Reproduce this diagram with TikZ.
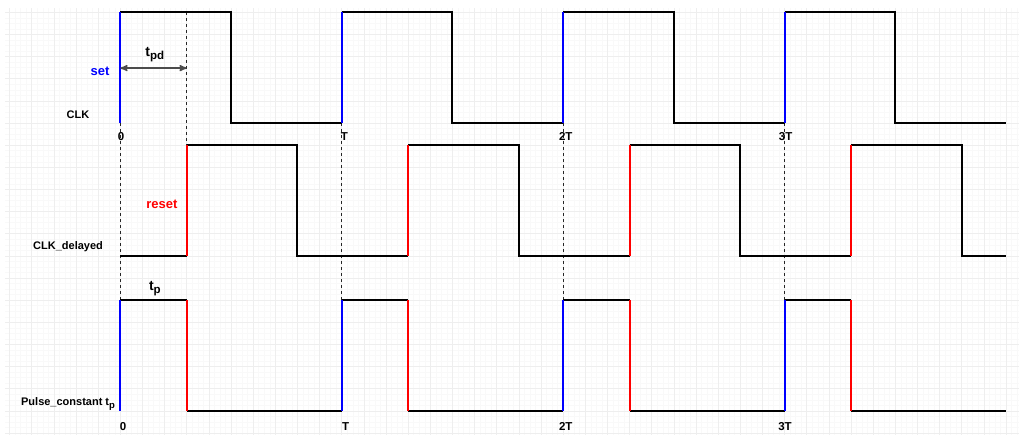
\documentclass[tikz,border=0pt]{standalone}
\usepackage{fontspec}
\setmainfont{Liberation Sans}
\usetikzlibrary{arrows}

\begin{document}
\begin{tikzpicture}[x=22.14pt,y=-22.14pt,>=stealth',
  wave/.style={line width=2pt,black},
  set edge/.style={line width=2pt,blue},
  reset edge/.style={line width=2pt,red},
  guide/.style={dash pattern=on 3pt off 3pt,black!85,line width=1.2pt},
  sig label/.style={font=\fontsize{11}{13}\selectfont\bfseries,inner sep=0pt},
  tick label/.style={font=\fontsize{11.5}{13}\selectfont\bfseries,inner sep=0pt},
  big label/.style={font=\fontsize{13}{15}\selectfont\bfseries,inner sep=0pt}]

  \useasboundingbox (-5.434,-0.556) rectangle (40.59,19.09);

  % background grid
  \foreach \i in {-20,...,162}
    \draw[gray!5,line width=0.5pt] (\i/4,-0.19) -- (\i/4,19.09);
  \foreach \j in {0,...,76}
    \draw[gray!5,line width=0.5pt] (-5.21,\j/4) -- (40.59,\j/4);
  \foreach \i in {-5,...,40}
    \draw[gray!13,line width=0.6pt] (\i,-0.19) -- (\i,19.09);
  \foreach \j in {0,...,19}
    \draw[gray!13,line width=0.6pt] (-5.21,\j) -- (40.59,\j);

  % dashed guides
  \draw[guide] (3,0) -- (3,6);
  \foreach \k in {0,10,20,30}
    \draw[guide] (\k,5) -- (\k,13);

  % CLK
  \foreach \k in {0,10,20,30} {
    \draw[wave] (\k,0) -- (\k+5,0) -- (\k+5,5) -- (\k+10,5);
    \draw[set edge] (\k,5) -- (\k,0);
  }

  % CLK_delayed
  \draw[wave] (0,11) -- (3,11);
  \foreach \k in {0,10,20,30} {
    \pgfmathsetmacro\e{min(\k+13,40)}
    \draw[wave] (\k+3,6) -- (\k+8,6) -- (\k+8,11) -- (\e,11);
    \draw[reset edge] (\k+3,11) -- (\k+3,6);
  }

  % Pulse_constant
  \foreach \k in {0,10,20,30} {
    \draw[wave] (\k,13) -- (\k+3,13);
    \draw[wave] (\k+3,18) -- (\k+10,18);
    \draw[set edge] (\k,18) -- (\k,13);
    \draw[reset edge] (\k+3,13) -- (\k+3,18);
  }

  % t_pd arrow
  \coordinate (pd start) at (0,2.52);
  \coordinate (pd end) at (3,2.52);
  \draw[<->,black!70,line width=1.5pt] (pd start) -- (pd end);

  % labels
  \node[big label,blue] (set) at (-0.92,2.65) {set};
  \node[big label,red] (reset) at (1.88,8.66) {reset};
  \node[font=\fontsize{14}{16}\selectfont\bfseries,inner sep=0pt] (tpd) at (1.56,1.93)
    {t\raisebox{-3pt}{\fontsize{11.5}{12}\selectfont pd}};
  \node[font=\fontsize{14}{16}\selectfont\bfseries,inner sep=0pt] (tp) at (1.56,12.5)
    {t\raisebox{-3pt}{\fontsize{11.5}{12}\selectfont p}};
  \node[sig label] (clk) at (-1.91,4.64) {CLK};
  \node[sig label] (clkd) at (-2.36,10.6) {CLK\_delayed};
  \node[sig label] (pulse) at (-2.36,17.69)
    {Pulse\_constant t\raisebox{-2.5pt}{\fontsize{9.5}{10}\selectfont p}};

  \node[tick label] (t0) at (0.03,5.63) {0};
  \node[tick label] (t1) at (10.12,5.63) {T};
  \node[tick label] (t2) at (20.12,5.63) {2T};
  \node[tick label] (t3) at (30.05,5.63) {3T};
  \node[tick label] (b0) at (0.12,18.69) {0};
  \node[tick label] (b1) at (10.18,18.69) {T};
  \node[tick label] (b2) at (20.12,18.69) {2T};
  \node[tick label] (b3) at (30.02,18.69) {3T};
\end{tikzpicture}
\end{document}
